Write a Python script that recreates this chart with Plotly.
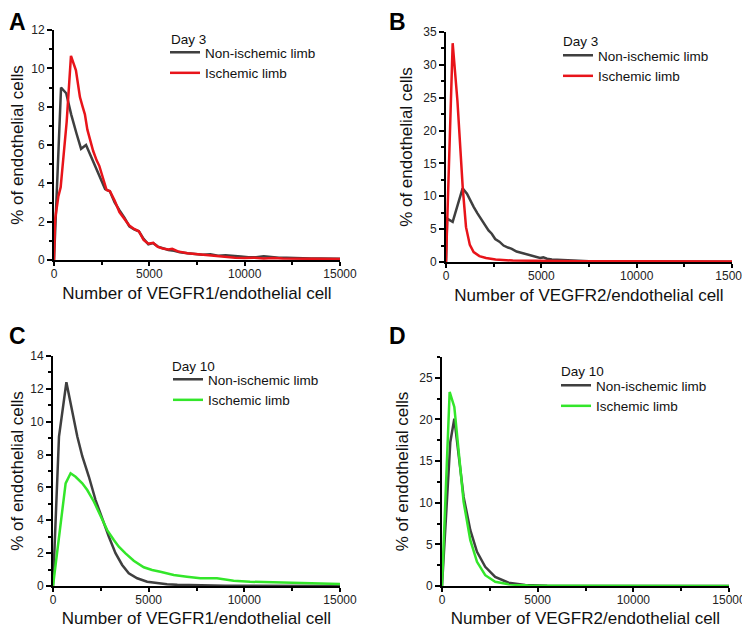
import plotly.graph_objects as go

# ---------------- data ----------------
# Panel A: VEGFR1, Day 3
a_non_x = [0, 370, 640, 900, 1180, 1420, 1680, 1900, 2150, 2420, 2680, 2930, 3180, 3430, 3700, 3950, 4200, 4450, 4700, 4950, 5200, 5450, 5700, 6000, 6300, 6600, 7000, 7400, 7800, 8200, 8600, 9000, 9400, 9800, 10200, 10600, 11000, 11400, 11800, 12200, 12600, 13000, 13500, 14000, 14500, 15000]
a_non_y = [0, 9.0, 8.7, 7.6, 6.6, 5.8, 6.0, 5.5, 4.9, 4.35, 3.7, 3.58, 3.0, 2.6, 2.2, 1.75, 1.6, 1.5, 1.1, 0.82, 0.88, 0.7, 0.6, 0.52, 0.48, 0.4, 0.35, 0.33, 0.28, 0.3, 0.22, 0.25, 0.2, 0.18, 0.15, 0.15, 0.2, 0.15, 0.12, 0.12, 0.1, 0.1, 0.08, 0.08, 0.07, 0.06]
a_isc_x = [0, 55, 225, 350, 664, 890, 1150, 1360, 1500, 1620, 1750, 1885, 2050, 2235, 2380, 2500, 2650, 2760, 2930, 3180, 3430, 3700, 3950, 4200, 4450, 4700, 4950, 5200, 5450, 5700, 6000, 6200, 6500, 7000, 7500, 8000, 8500, 9000, 9500, 10000, 10500, 11000, 11500, 12000, 12500, 13000, 13500, 14000, 14500, 15000]
a_isc_y = [0, 2.1, 3.3, 3.8, 7.2, 10.65, 9.9, 8.5, 8.0, 7.6, 6.8, 6.3, 5.7, 5.2, 4.9, 4.5, 4.0, 3.65, 3.6, 3.1, 2.5, 2.15, 1.8, 1.62, 1.5, 1.05, 0.85, 0.9, 0.68, 0.6, 0.55, 0.58, 0.45, 0.35, 0.3, 0.25, 0.2, 0.18, 0.12, 0.1, 0.12, 0.08, 0.1, 0.08, 0.07, 0.07, 0.06, 0.06, 0.06, 0.05]

# Panel B: VEGFR2, Day 3
b_non_x = [0, 60, 350, 870, 1100, 1300, 1450, 1650, 1880, 2050, 2230, 2400, 2580, 2800, 3020, 3250, 3450, 3700, 3980, 4250, 4500, 4750, 4935, 5100, 5300, 5550, 6000, 6500, 7000, 7500, 8000, 9000, 10000, 11000, 12000, 13000, 14000, 15000]
b_non_y = [0, 6.6, 6.1, 11.2, 10.4, 9.2, 8.4, 7.4, 6.4, 5.6, 4.8, 4.3, 3.5, 3.1, 2.5, 2.2, 2.0, 1.6, 1.4, 1.2, 1.0, 0.8, 0.62, 0.7, 0.5, 0.38, 0.3, 0.2, 0.15, 0.1, 0.1, 0.08, 0.06, 0.05, 0.05, 0.04, 0.04, 0.03]
b_isc_x = [0, 350, 600, 750, 880, 1050, 1250, 1450, 1750, 2100, 2600, 3500, 5000, 7000, 10000, 15000]
b_isc_y = [0, 33.3, 24.5, 17.0, 11.2, 5.3, 2.6, 1.5, 0.9, 0.6, 0.38, 0.22, 0.15, 0.12, 0.1, 0.08]

# Panel C: VEGFR1, Day 10
c_non_x = [0, 313, 700, 1008, 1270, 1530, 1877, 2225, 2572, 2920, 3267, 3615, 3960, 4400, 4920, 5440, 5960, 6500, 7000, 7500, 8000, 9000, 10000, 12000, 15000]
c_non_y = [0, 9.1, 12.4, 10.5, 9.1, 7.9, 6.65, 5.23, 4.1, 3.0, 2.0, 1.28, 0.77, 0.47, 0.26, 0.16, 0.1, 0.07, 0.05, 0.03, 0.02, 0.01, 0.01, 0.0, 0.0]
c_isc_x = [0, 660, 920, 1180, 1530, 1790, 2140, 2485, 2833, 3180, 3440, 3790, 4220, 4745, 5180, 5610, 6310, 7000, 7700, 8570, 9440, 10300, 11180, 12040, 12900, 13780, 15000]
c_isc_y = [0, 6.25, 6.86, 6.65, 6.25, 5.84, 5.13, 4.22, 3.4, 2.8, 2.39, 1.99, 1.54, 1.14, 0.97, 0.87, 0.67, 0.57, 0.47, 0.47, 0.32, 0.26, 0.24, 0.2, 0.2, 0.16, 0.12]

# Panel D: VEGFR2, Day 10
d_non_x = [0, 435, 644, 870, 1130, 1480, 1830, 2260, 2780, 3480, 4350, 5500, 7000, 10000, 15000]
d_non_y = [0, 17.3, 20.1, 15.9, 10.7, 6.7, 4.1, 2.3, 1.1, 0.4, 0.12, 0.04, 0.02, 0.01, 0.0]
d_isc_x = [0, 400, 644, 870, 1130, 1480, 1830, 2260, 2780, 3480, 4500, 6000, 10000, 15000]
d_isc_y = [0, 23.3, 21.5, 16.3, 10.1, 5.5, 2.9, 1.3, 0.5, 0.2, 0.05, 0.02, 0.01, 0.0]

series_names = ["Non-ischemic limb", "Ischemic limb"]
day_labels = ["Day 3", "Day 3", "Day 10", "Day 10"]
panel_letters = ["A", "B", "C", "D"]
x_titles = ["Number of VEGFR1/endothelial cell", "Number of VEGFR2/endothelial cell",
            "Number of VEGFR1/endothelial cell", "Number of VEGFR2/endothelial cell"]
y_title = "% of endothelial cells"
x_ticks = [0, 5000, 10000, 15000]
x_tick_labels = ["0", "5000", "10000", "15000"]
x_minor_ticks = [2500, 7500, 12500]
y_ranges = [[0, 12], [0, 35], [0, 14], [0, 27.5]]
y_dticks = [2, 5, 2, 5]
y_minor = [1, 2.5, 1, 2.5]

GRAY = "#3f3f3f"
RED = "#e8141a"
GREEN = "#33e62a"
FONT = "Liberation Sans, Arial, sans-serif"

# the page body adds an 8px offset, so the figure is 8px smaller on each axis
OFF = 8
W, H = 750 - OFF, 628 - OFF

def px2x(px):
    return (px - OFF) / W

def px2y(py):
    return 1 - (py - OFF) / H

# plot-area pixel boxes in the window (left, right, top, bottom)
boxes = [(54, 340, 30, 260), (446, 732, 32, 262), (53, 340, 356, 586), (442, 729, 357, 586)]
# legend: item line start (x) and first-row center (y); day label position
legend_pos = [(170, 55), (563, 58), (173, 382), (561, 388)]
day_pos = [(172, 39), (564, 42), (173, 367), (562, 372)]
letter_pos = [(17, 22), (398, 22), (17, 336), (398, 336)]

panels = [
    (a_non_x, a_non_y, a_isc_x, a_isc_y, RED),
    (b_non_x, b_non_y, b_isc_x, b_isc_y, RED),
    (c_non_x, c_non_y, c_isc_x, c_isc_y, GREEN),
    (d_non_x, d_non_y, d_isc_x, d_isc_y, GREEN),
]

fig = go.Figure()
layout = dict(
    width=W, height=H, margin=dict(l=0, r=0, t=0, b=0, autoexpand=False),
    paper_bgcolor="white", plot_bgcolor="white",
    font=dict(family=FONT, color="#222222"),
    showlegend=True,
    annotations=[],
)

LEG_X_OFF = 5
LEG_Y_OFF = 18
DAY_X_OFF = 3

for i, (nx, ny, ix, iy, col) in enumerate(panels):
    n = i + 1
    xa = "x" if n == 1 else f"x{n}"
    ya = "y" if n == 1 else f"y{n}"
    lg = "legend" if n == 1 else f"legend{n}"
    fig.add_trace(go.Scatter(x=nx, y=ny, mode="lines", name=series_names[0],
                             line=dict(color=GRAY, width=2.5), xaxis=xa, yaxis=ya,
                             legend=lg))
    fig.add_trace(go.Scatter(x=ix, y=iy, mode="lines", name=series_names[1],
                             line=dict(color=col, width=2.5), xaxis=xa, yaxis=ya,
                             legend=lg))
    l, r, t, b = boxes[i]
    xkey = "xaxis" if n == 1 else f"xaxis{n}"
    ykey = "yaxis" if n == 1 else f"yaxis{n}"
    layout[xkey] = dict(
        domain=[px2x(l), px2x(r)], anchor=ya, range=[0, 15000], automargin=False,
        tickmode="array", tickvals=x_ticks, ticktext=x_tick_labels,
        ticks="outside", ticklen=4, tickwidth=1.5, tickcolor="black",
        showline=True, linecolor="black", linewidth=2, showgrid=False, zeroline=False,
        tickfont=dict(size=12, family=FONT, color="#222222"),
        ticklabelstandoff=-2,
        minor=dict(tickvals=x_minor_ticks, ticks="outside", ticklen=3, tickcolor="black", tickwidth=1.5),
        title=dict(text=x_titles[i], font=dict(size=17, family=FONT, color="#111111"), standoff=7),
    )
    layout[ykey] = dict(
        domain=[px2y(b), px2y(t)], anchor=xa, range=y_ranges[i], automargin=False,
        dtick=y_dticks[i], tick0=0, ticks="outside", ticklen=5, tickwidth=1.5, tickcolor="black",
        showline=True, linecolor="black", linewidth=2, showgrid=False, zeroline=False,
        tickfont=dict(size=12, family=FONT, color="#222222"),
        minor=dict(dtick=y_minor[i], tick0=0, ticks="outside", ticklen=3, tickcolor="black", tickwidth=1.5),
        title=dict(text=y_title, font=dict(size=17, family=FONT, color="#111111"), standoff=6),
    )
    lx, ly = legend_pos[i]
    layout[lg] = dict(
        x=px2x(lx - LEG_X_OFF), y=px2y(ly - LEG_Y_OFF), xanchor="left", yanchor="top",
        xref="paper", yref="paper",
        bgcolor="rgba(0,0,0,0)", borderwidth=0, itemwidth=30, tracegroupgap=0,
        font=dict(size=13.5, family=FONT, color="#111111"),
    )
    dx, dy = day_pos[i]
    layout["annotations"].append(dict(
        text=day_labels[i], x=px2x(dx - DAY_X_OFF), y=px2y(dy), xref="paper", yref="paper",
        showarrow=False, xanchor="left", yanchor="middle",
        font=dict(size=13.5, family=FONT, color="#111111"),
    ))
    px_, py_ = letter_pos[i]
    layout["annotations"].append(dict(
        text=f"<b>{panel_letters[i]}</b>", x=px2x(px_), y=px2y(py_), xref="paper", yref="paper",
        showarrow=False, xanchor="center", yanchor="middle",
        font=dict(size=23, family=FONT, color="black"),
    ))

fig.update_layout(**layout)
fig.write_html("out.html")
